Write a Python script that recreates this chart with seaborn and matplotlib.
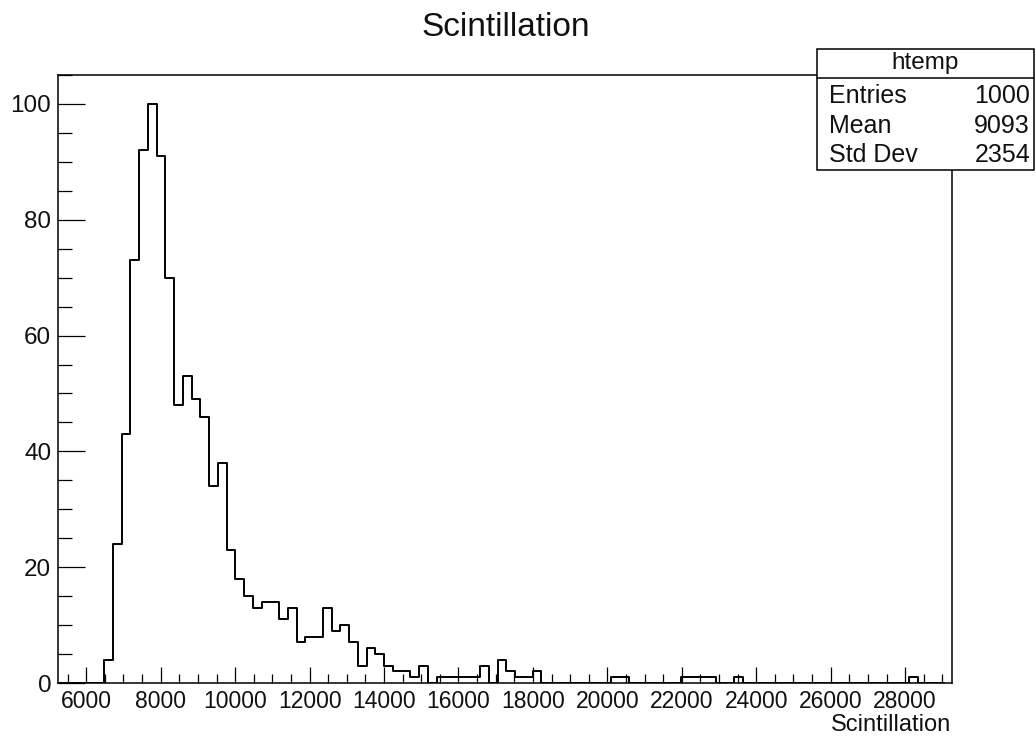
import numpy as np
import pandas as pd
import matplotlib
matplotlib.use("Agg")
import matplotlib.pyplot as plt
import seaborn as sns
from matplotlib.patches import Rectangle
from matplotlib.lines import Line2D
from matplotlib.ticker import MultipleLocator, FixedLocator

# ---------------- data ----------------
axis_low = 5250
axis_high = 29250
bin_start = 5305
bin_width = 235
counts = [
    0, 0, 0, 0, 0, 4, 24, 43, 73, 92,
    100, 91, 70, 48, 53, 49, 46, 34, 38, 23,
    18, 15, 13, 14, 14, 11, 13, 7, 8, 8,
    13, 9, 10, 7, 3, 6, 5, 3, 2, 2,
    1, 3, 0, 1, 1, 1, 1, 1, 3, 0,
    4, 2, 1, 1, 2, 0, 0, 0, 0, 0,
    0, 0, 0, 1, 1, 0, 0, 0, 0, 0,
    0, 1, 1, 1, 1, 0, 0, 1, 0, 0,
    0, 0, 0, 0, 0, 0, 0, 0, 0, 0,
    0, 0, 0, 0, 0, 0, 0, 1, 0, 0,
    0,
]
x_tick_values = list(range(6000, 28001, 2000))
y_tick_values = [0, 20, 40, 60, 80, 100]
title_text = "Scintillation"
x_label_text = "Scintillation"
stats_name = "htemp"
stats_labels = ["Entries", "Mean", "Std Dev"]
stats_values = ["1000", "9093", "2354"]

# ---------------- style ----------------
sns.set_style("ticks")
plt.rcParams["font.family"] = ["Liberation Sans", "DejaVu Sans"]

W, H = 1036, 739
fig = plt.figure(figsize=(W / 100, H / 100), dpi=100)
fig.patch.set_facecolor("white")

left_px, right_px, top_px, bottom_px = 58.3, 951.7, 75.0, 683.0
ax = fig.add_axes([left_px / W, 1 - bottom_px / H,
                   (right_px - left_px) / W, (bottom_px - top_px) / H])

n_bins = len(counts)
centers = bin_start + bin_width * (np.arange(n_bins) + 0.5)
df = pd.DataFrame({"x": centers, "n": np.array(counts, dtype=float)})

sns.histplot(data=df, x="x", weights="n", binwidth=bin_width,
             binrange=(bin_start, bin_start + n_bins * bin_width),
             element="step", fill=False, color="black", linewidth=1.4, ax=ax)

ax.set_xlim(axis_low, axis_high)
ax.set_ylim(0, 105)
ax.set_xlabel("")
ax.set_ylabel("")

ax.xaxis.set_major_locator(FixedLocator(x_tick_values))
ax.xaxis.set_minor_locator(MultipleLocator(500))
ax.yaxis.set_major_locator(FixedLocator(y_tick_values))
ax.yaxis.set_minor_locator(MultipleLocator(5))
ax.set_xticklabels([str(v) for v in x_tick_values])
ax.set_yticklabels([str(v) for v in y_tick_values])

ax.tick_params(axis="x", which="major", direction="in", length=11.5, width=0.9,
               labelsize=16.5, pad=5, color="black", labelcolor="#111111")
ax.tick_params(axis="x", which="minor", direction="in", length=6.5, width=0.9,
               color="black")
ax.tick_params(axis="y", which="major", direction="in", length=19.5, width=0.9,
               labelsize=17.5, pad=5, color="black", labelcolor="#111111")
ax.tick_params(axis="y", which="minor", direction="in", length=10, width=0.9,
               color="black")
ax.tick_params(top=False, right=False, which="both")

for s in ax.spines.values():
    s.set_visible(True)
    s.set_linewidth(1.1)
    s.set_color("black")

# title and axis label
fig.text(506 / W, 1 - 27 / H, title_text, ha="center", va="center",
         fontsize=24, color="#111111")
fig.text(951 / W, 1 - 725 / H, x_label_text, ha="right", va="center",
         fontsize=17, color="#111111")

# stats box
bx0, bx1, by0, by1 = 817, 1034, 49, 170
rect = Rectangle((bx0 / W, 1 - by1 / H), (bx1 - bx0) / W, (by1 - by0) / H,
                 transform=fig.transFigure, facecolor="white",
                 edgecolor="black", linewidth=1.1, zorder=10)
fig.add_artist(rect)
sep = Line2D([bx0 / W, bx1 / W], [1 - 78 / H, 1 - 78 / H],
             transform=fig.transFigure, color="black", linewidth=1.1, zorder=11)
fig.add_artist(sep)
fig.text((bx0 + bx1) / 2 / W, 1 - 63.5 / H, stats_name, ha="center",
         va="center", fontsize=17.5, color="#111111", zorder=12)
row_y = [96, 126, 155]
for lab, val, yy in zip(stats_labels, stats_values, row_y):
    fig.text(829 / W, 1 - yy / H, lab, ha="left", va="center",
             fontsize=18, color="#111111", zorder=12)
    fig.text(1030 / W, 1 - yy / H, val, ha="right", va="center",
             fontsize=18, color="#111111", zorder=12)

fig.savefig("out.png", dpi=100)
